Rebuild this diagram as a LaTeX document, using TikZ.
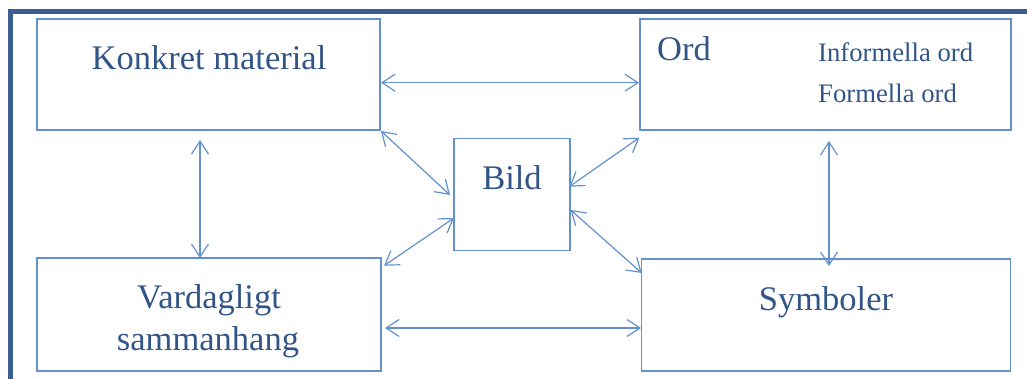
\documentclass[tikz,border=0pt]{standalone}
\usepackage{fontspec}
\setmainfont{Liberation Serif}
\usetikzlibrary{arrows.meta}
\definecolor{framecol}{RGB}{58,94,142}
\definecolor{boxcol}{RGB}{100,145,205}
\definecolor{txtcol}{RGB}{50,85,135}
\tikzset{
  box/.style={draw=boxcol, line width=1.3pt, inner sep=0pt, outer sep=0pt, anchor=north west},
  lbl/.style={text=txtcol, font=\fontsize{34.5}{38}\selectfont, anchor=base, inner sep=0pt},
  slbl/.style={text=txtcol, font=\fontsize{26.7}{30}\selectfont, anchor=base west, inner sep=0pt},
  link/.style={draw=boxcol, line width=1.2pt, {Straight Barb[length=13pt,width=17pt]}-{Straight Barb[length=13pt,width=17pt]}}
}
\begin{document}
\begin{tikzpicture}[x=1pt,y=-1pt]
\useasboundingbox (0,0) rectangle (1027,379);
\draw[framecol, line width=5pt, line join=miter] (10.3,381) -- (10.3,12) -- (1029,12);
% boxes
\node[box, minimum width=343pt, minimum height=111pt] (konkret) at (37,19) {};
\node[box, minimum width=371pt, minimum height=111pt] (ord) at (640,19) {};
\node[box, minimum width=116pt, minimum height=112pt] (bild) at (454,138.5) {};
\node[box, minimum width=344pt, minimum height=113pt] (vard) at (37,258) {};
\node[box, minimum width=369pt, minimum height=112pt] (symb) at (641.5,259) {};
% texts
\node[lbl] (tkonkret) at (209,70) {Konkret material};
\node[lbl, anchor=base west] (tord) at (657,61) {Ord};
\node[slbl] (tinf) at (818,61.5) {Informella ord};
\node[slbl] (tform) at (818,102.5) {Formella ord};
\node[lbl] (tbild) at (512,190) {Bild};
\node[lbl] (tvard) at (209,308) {Vardagligt};
\node[lbl] (tsamm) at (208,350) {sammanhang};
\node[lbl] (tsymb) at (826,310) {Symboler};
% connector endpoints
\coordinate (k1) at (381,82.7);
\coordinate (o1) at (639,82.7);
\coordinate (v1) at (385,328);
\coordinate (s1) at (641,328);
\coordinate (k2) at (200,140);
\coordinate (v2) at (200,258);
\coordinate (o2) at (829,141);
\coordinate (s2) at (829,266);
\coordinate (k3) at (381,131);
\coordinate (b3) at (450,195);
\coordinate (o4) at (639.3,137.7);
\coordinate (b4) at (569.3,186.7);
\coordinate (v5) at (384,265.7);
\coordinate (b5) at (454,218);
\coordinate (b6) at (570.7,210);
\coordinate (s6) at (641.7,273);
\draw[link] (k1) -- (o1);
\draw[link] (v1) -- (s1);
\draw[link] (k2) -- (v2);
\draw[link] (o2) -- (s2);
\draw[link] (k3) -- (b3);
\draw[link] (o4) -- (b4);
\draw[link] (v5) -- (b5);
\draw[link] (b6) -- (s6);
\end{tikzpicture}
\end{document}
